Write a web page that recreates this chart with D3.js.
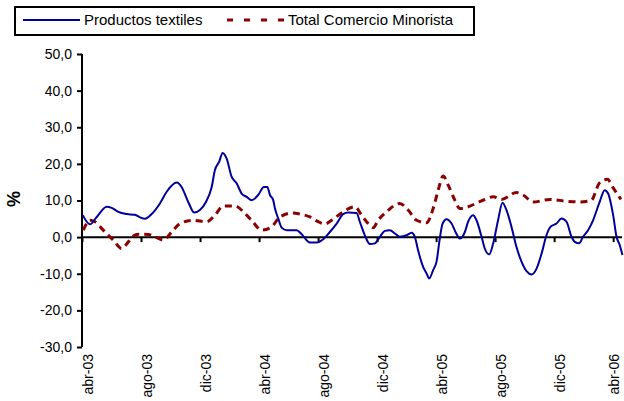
<!DOCTYPE html>
<html>
<head>
<meta charset="utf-8">
<script src="https://cdn.jsdelivr.net/npm/d3@7"></script>
<style>
  body { margin: 0; background: #fff; }
  text { font-family: "Liberation Sans", Arial, sans-serif; }
</style>
</head>
<body>
<div id="chart"></div>
<script>
// tick labels every 4 months, starting abr-03
const tickLabels = ["abr-03", "ago-03", "dic-03", "abr-04", "ago-04", "dic-04", "abr-05", "ago-05", "dic-05", "abr-06"];
const yTicks = [-30, -20, -10, 0, 10, 20, 30, 40, 50];

// months counted from abr-03
const textilesMonths = [0.05, 0.54, 1.0, 1.67, 2.01, 2.46, 3.03, 3.59, 3.93, 4.27, 4.72, 5.28, 5.74, 6.42, 6.75, 7.2, 7.61, 7.99, 8.4, 8.79,
  9.01, 9.3, 9.53, 9.8, 10.14, 10.48, 10.82, 11.16, 11.5, 11.94, 12.33, 12.56, 12.74, 12.96, 13.08, 13.3, 13.53, 13.87, 14.55, 14.89,
  15.45, 15.9, 16.35, 16.8, 17.26, 17.7, 18.04, 18.61, 18.83, 19.17, 19.51, 19.85, 20.19, 20.53, 20.87, 21.21, 21.54, 22.0, 22.34, 22.56,
  22.78, 23.12, 23.35, 23.53, 23.8, 24.03, 24.25, 24.44, 24.71, 25.05, 25.34, 25.61, 25.95, 26.17, 26.51, 26.74, 27.08, 27.3, 27.6, 27.87,
  28.2, 28.5, 28.77, 29.11, 29.45, 29.79, 30.13, 30.47, 30.81, 31.15, 31.48, 31.75, 32.16, 32.5, 32.84, 33.18, 33.4, 33.69, 33.96, 34.3,
  34.64, 35.05, 35.43, 35.66, 36.0, 36.23, 36.45, 36.63];
const textilesValues = [6.0, 3.5, 5.5, 8.3, 8.0, 6.9, 6.3, 6.1, 5.4, 5.0, 6.3, 9.2, 12.4, 14.9, 13.7, 9.6, 6.7, 7.4, 9.6, 13.7,
  18.3, 20.6, 23.0, 21.5, 16.5, 14.7, 11.9, 11.0, 10.1, 11.5, 13.7, 13.7, 11.5, 10.1, 7.8, 5.1, 2.6, 1.9, 1.9, 0.8,
  -1.5, -1.5, -0.6, 1.4, 3.7, 6.3, 6.7, 6.6, 4.2, 0.5, -1.9, -1.7, 0.1, 1.7, 1.9, 1.0, 0.1, 0.5, 1.2, 0.1,
  -3.6, -8.1, -9.9, -11.3, -9.0, -6.7, -0.4, 3.7, 4.9, 3.7, 1.2, -0.4, 1.4, 4.2, 6.0, 4.6, 0.1, -3.1, -4.7, -1.7,
  4.6, 9.4, 7.4, 2.8, -2.7, -6.7, -9.3, -10.2, -8.6, -4.5, 0.5, 2.8, 3.7, 5.1, 4.2, 0.1, -1.3, -1.7, 0.1, 1.9,
  4.6, 9.2, 12.8, 11.9, 6.0, 0.1, -2.2, -4.9];

const comercioMonths = [0.09, 0.54, 0.88, 1.44, 2.12, 2.69, 3.14, 3.48, 3.81, 4.49, 4.95, 5.51, 6.08, 6.64, 7.54, 8.45, 9.01, 9.57, 10.37, 11.04,
  11.57, 12.17, 12.85, 13.41, 14.32, 14.77, 15.45, 16.01, 16.46, 16.92, 17.59, 18.5, 18.95, 19.4, 19.74, 20.07, 20.64, 21.54, 22.1, 22.68,
  23.35, 23.8, 24.14, 24.48, 24.82, 25.27, 25.61, 26.17, 27.08, 27.87, 28.44, 29.45, 29.9, 30.58, 31.71, 32.84, 33.74, 34.53, 35.06, 35.62,
  35.96, 36.53];
const comercioValues = [1.9, 4.6, 4.2, 1.9, -0.8, -3.1, -1.3, 0.3, 0.8, 0.7, 0.1, -0.8, 1.4, 3.7, 4.6, 4.2, 6.0, 8.5, 8.5, 6.5,
  4.2, 1.9, 2.8, 5.5, 6.6, 6.3, 5.5, 4.2, 3.6, 4.6, 6.6, 8.3, 6.0, 3.7, 2.6, 4.6, 6.9, 9.2, 7.4, 4.6,
  3.9, 7.8, 12.8, 16.7, 14.2, 10.1, 7.8, 8.3, 9.9, 11.0, 10.3, 12.2, 11.5, 9.6, 10.3, 9.8, 9.6, 10.1, 14.7, 15.8,
  13.7, 10.3];

const width = 624, height = 401;
const blue = "#000099", red = "#8b0000";

const svg = d3.select("#chart").append("svg")
  .attr("width", width)
  .attr("height", height);

const x = d3.scaleLinear().domain([0, 36.6]).range([82, 622]);
const y = d3.scaleLinear().domain([-30, 50]).range([347, 54]);

// y axis
const yAxis = svg.append("g")
  .attr("transform", "translate(" + x(0) + ",0)")
  .call(d3.axisLeft(y).tickValues(yTicks).tickSize(5).tickPadding(5)
    .tickFormat(d => d3.format(".1f")(d).replace(".", ",").replace("−", "-")));
yAxis.select(".domain").attr("stroke", "#000").attr("stroke-width", 2).attr("d", "M0," + y(-30) + "V" + y(50));
yAxis.selectAll(".tick line").attr("stroke", "#000").attr("stroke-width", 2);
yAxis.selectAll(".tick text").attr("font-size", 14).attr("fill", "#000")
  .attr("font-family", "Liberation Sans, Arial, sans-serif");

// x axis on the zero line
const xAxis = svg.append("g")
  .attr("transform", "translate(0," + y(0) + ")")
  .call(d3.axisBottom(x).tickValues(d3.range(0, 37, 4)).tickSize(5).tickFormat(""));
xAxis.select(".domain").attr("stroke", "#000").attr("stroke-width", 2).attr("d", "M" + x(0) + ",0H" + x(36.6));
xAxis.selectAll(".tick line").attr("stroke", "#000").attr("stroke-width", 2);

svg.append("g").selectAll("text")
  .data(tickLabels)
  .join("text")
  .attr("transform", (d, i) => "translate(" + Math.min(x(i * 4) + 11, 619) + ",354) rotate(-90)")
  .attr("text-anchor", "end")
  .attr("font-size", 14)
  .attr("fill", "#000")
  .text(d => d);

// y title
svg.append("text")
  .attr("transform", "translate(20,199) rotate(-90)")
  .attr("text-anchor", "middle")
  .attr("font-size", 18)
  .attr("font-weight", "bold")
  .text("%");

const line = d3.line()
  .x(d => x(d[0]))
  .y(d => y(d[1]))
  .curve(d3.curveMonotoneX);

svg.append("path")
  .datum(comercioMonths.map((m, i) => [m, comercioValues[i]]))
  .attr("fill", "none")
  .attr("stroke", red)
  .attr("stroke-width", 3)
  .attr("stroke-dasharray", "7,5")
  .attr("d", line);

svg.append("path")
  .datum(textilesMonths.map((m, i) => [m, textilesValues[i]]))
  .attr("fill", "none")
  .attr("stroke", blue)
  .attr("stroke-width", 2)
  .attr("d", line);

// legend
const legend = svg.append("g");
legend.append("rect")
  .attr("x", 15).attr("y", 7).attr("width", 459).attr("height", 28)
  .attr("fill", "#fff").attr("stroke", "#000").attr("stroke-width", 2);
legend.append("line")
  .attr("x1", 23).attr("x2", 80).attr("y1", 20).attr("y2", 20)
  .attr("stroke", blue).attr("stroke-width", 2);
legend.append("text")
  .attr("x", 84).attr("y", 25).attr("font-size", 15).text("Productos textiles");
legend.append("line")
  .attr("x1", 227).attr("x2", 288).attr("y1", 20).attr("y2", 20)
  .attr("stroke", red).attr("stroke-width", 3).attr("stroke-dasharray", "6,11");
legend.append("text")
  .attr("x", 288).attr("y", 25).attr("font-size", 15).text("Total Comercio Minorista");
</script>
</body>
</html>
